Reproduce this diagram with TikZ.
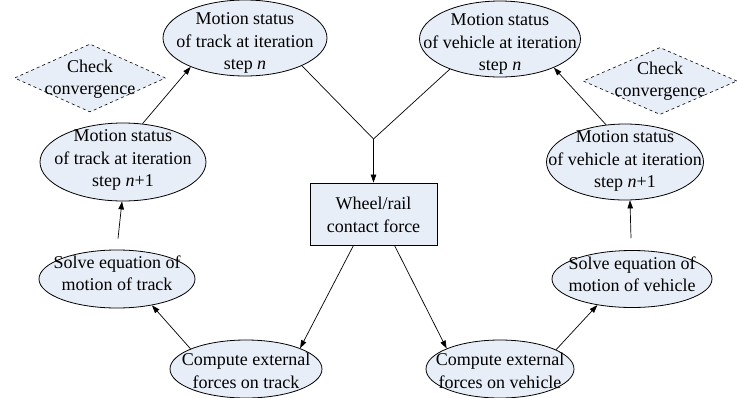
\documentclass[tikz,border=0pt]{standalone}
\usepackage{fontspec}
\setmainfont{Liberation Serif}
\newfontfamily\lserif{Liberation Serif}
\usetikzlibrary{shapes.geometric,arrows.meta}
\definecolor{boxfill}{RGB}{232,238,248}
\begin{document}
\begin{tikzpicture}[x=1pt,y=-1pt,
  ell/.style={ellipse,draw=black,line width=0.8pt,fill=boxfill,inner sep=0pt},
  dia/.style={diamond,draw=black,dashed,line width=0.6pt,fill=boxfill,inner sep=0pt},
  rbox/.style={rectangle,draw=black,line width=0.8pt,fill=boxfill,inner sep=0pt,minimum width=127pt,minimum height=62pt},
  txt/.style={inner sep=0pt,align=center,font=\lserif\fontsize{18}{22.5}\selectfont},
  conn/.style={line width=0.7pt},
  arr/.style={line width=0.7pt,-{Triangle[length=8pt,width=5.5pt]}}]
\useasboundingbox (0,0) rectangle (737,397);
% diamonds
\node[dia,minimum width=151pt,minimum height=68pt] (cl) at (90,78) {};
\node[txt] (clt) at (90,79) {Check\\convergence};
\node[dia,minimum width=154pt,minimum height=67pt] (cr) at (660,81) {};
\node[txt] (crt) at (660,81) {Check\\convergence};
% ellipses
\node[ell,minimum width=164pt,minimum height=76pt] (tn) at (245,38) {};
\node[txt] (tnt) at (245,43) {Motion status\\of track at iteration\\step \textit{n}};
\node[ell,minimum width=161pt,minimum height=76pt] (vn) at (500,39) {};
\node[txt] (vnt) at (500,44) {Motion status\\of vehicle at iteration\\step \textit{n}};
\node[ell,minimum width=166pt,minimum height=78pt] (tn1) at (123,162) {};
\node[txt] (tn1t) at (123,160) {Motion status\\of track at iteration\\step \textit{n}+1};
\node[ell,minimum width=157pt,minimum height=76pt] (vn1) at (625,162) {};
\node[txt] (vn1t) at (625,161) {Motion status\\of vehicle at iteration\\step \textit{n}+1};
\node[ell,minimum width=156pt,minimum height=58pt] (st) at (117,279) {};
\node[txt] (stt) at (117,273) {Solve equation of\\motion of track};
\node[ell,minimum width=160pt,minimum height=57pt] (sv) at (632,279) {};
\node[txt] (svt) at (632,274) {Solve equation of\\motion of vehicle};
\node[ell,minimum width=152pt,minimum height=58pt] (ct) at (246,369) {};
\node[txt] (ctt) at (246,371) {Compute external\\forces on track};
\node[ell,minimum width=148pt,minimum height=58pt] (cv) at (500,369) {};
\node[txt] (cvt) at (500,371) {Compute external\\forces on vehicle};
% rectangle
\node[rbox] (wr) at (373.5,214) {};
\node[txt] (wrt) at (373.5,215) {Wheel/rail\\contact force};
% junction
\coordinate (J) at (373.5,139);
% connectors
\draw[conn] (tn.-26) -- (J);
\draw[conn] (vn.-149) -- (J);
\draw[arr] (J) -- (wr.north);
\draw[arr] (tn1.63) -- (tn.-152);
\draw[arr] ([xshift=1pt,yshift=11pt]st.north) -- ([xshift=-1pt]tn1.south);
\draw[arr] (ct.160) -- (st.-37);
\draw[arr] ([xshift=-20pt]wr.south) -- (ct.21);
\draw[arr] ([xshift=21pt]wr.south) -- (cv.159);
\draw[arr] (cv.19) -- (sv.-143);
\draw[arr] ([xshift=-1pt,yshift=12pt]sv.north) -- ([xshift=5pt]vn1.south);
\draw[arr] (vn1.117) -- (vn.-28);
\end{tikzpicture}
\end{document}
